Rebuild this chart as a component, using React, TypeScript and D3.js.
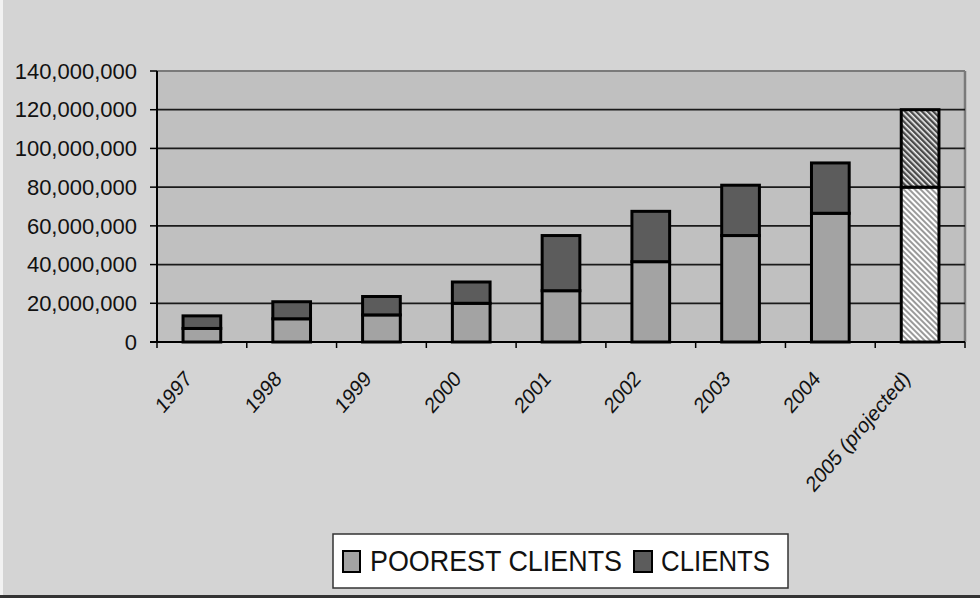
import React from "react";
import * as d3 from "d3";

const categories = ["1997", "1998", "1999", "2000", "2001", "2002", "2003", "2004", "2005 (projected)"];
// millions
const poorestClients = [7, 12, 14, 20, 26.5, 41.5, 55, 66.5, 80];
const allClients = [13.5, 20.8, 23.5, 31, 55, 67.5, 81, 92.5, 120];
const projected = [false, false, false, false, false, false, false, false, true];
const yTicks = [0, 20, 40, 60, 80, 100, 120, 140];
const legendLabels = ["POOREST CLIENTS", "CLIENTS"];

const W = 980;
const H = 598;
const left = 157;
const right = 965;
const top = 71;
const bottom = 342;

export default function App() {
  const x = d3
    .scaleBand<string>()
    .domain(categories)
    .range([left, right])
    .paddingInner(0.58)
    .paddingOuter(0.29);
  const y = d3.scaleLinear().domain([0, 140]).range([bottom, top]);
  const fmt = d3.format(",");
  const step = x.step();
  const font = "'Liberation Sans', Arial, sans-serif";

  return (
    <svg
      width={W}
      height={H}
      style={{ position: "absolute", left: 0, top: 0 }}
      fontFamily={font}
    >
      <defs>
        <pattern id="hatchLight" patternUnits="userSpaceOnUse" width={4} height={4} patternTransform="rotate(-45)">
          <rect width={4} height={4} fill="#ffffff" />
          <rect width={2} height={4} fill="#9a9a9a" />
        </pattern>
        <pattern id="hatchDark" patternUnits="userSpaceOnUse" width={4} height={4} patternTransform="rotate(-45)">
          <rect width={4} height={4} fill="#f4f4f4" />
          <rect width={2.4} height={4} fill="#4a4a4a" />
        </pattern>
      </defs>
      <rect x={0} y={0} width={W} height={H} fill="#d4d4d4" />
      <rect x={0} y={0} width={3} height={H} fill="#f2f2f2" />
      <line x1={0} x2={W} y1={596.5} y2={596.5} stroke="#333" strokeWidth={3} />

      {/* plot area */}
      <rect x={left} y={top} width={right - left} height={bottom - top} fill="#c0c0c0" />
      <line x1={left} x2={right} y1={top} y2={top} stroke="#7a7a7a" strokeWidth={2} />
      <line x1={right} x2={right} y1={top} y2={bottom} stroke="#7a7a7a" strokeWidth={2.5} />

      {/* gridlines */}
      {yTicks.filter((t) => t > 0 && t < 140).map((t) => (
        <line key={"g" + t} x1={left} x2={right} y1={y(t)} y2={y(t)} stroke="#1a1a1a" strokeWidth={1.7} />
      ))}

      {/* bars */}
      {categories.map((c, i) => {
        const bx = x(c)!;
        const bw = x.bandwidth();
        const p = poorestClients[i];
        const t = allClients[i];
        const proj = projected[i];
        return (
          <g key={c}>
            <rect
              x={bx}
              y={y(p)}
              width={bw}
              height={y(0) - y(p)}
              fill={proj ? "url(#hatchLight)" : "#a3a3a3"}
              stroke="#000"
              strokeWidth={3}
            />
            <rect
              x={bx}
              y={y(t)}
              width={bw}
              height={y(p) - y(t)}
              fill={proj ? "url(#hatchDark)" : "#5c5c5c"}
              stroke="#000"
              strokeWidth={3}
            />
          </g>
        );
      })}

      {/* y axis */}
      <line x1={left} x2={left} y1={top} y2={bottom} stroke="#000" strokeWidth={2} />
      {yTicks.map((t) => (
        <g key={"y" + t}>
          <line x1={left - 7} x2={left} y1={y(t)} y2={y(t)} stroke="#000" strokeWidth={1.5} />
          <text x={137} y={y(t)} dy="0.35em" textAnchor="end" fontSize={22} fill="#111">
            {fmt(t * 1e6)}
          </text>
        </g>
      ))}

      {/* x axis */}
      <line x1={left - 7} x2={right} y1={bottom} y2={bottom} stroke="#000" strokeWidth={2} />
      {d3.range(categories.length + 1).map((i) => (
        <line
          key={"xt" + i}
          x1={left + i * step}
          x2={left + i * step}
          y1={bottom}
          y2={bottom + 6}
          stroke="#000"
          strokeWidth={1.5}
        />
      ))}
      {categories.map((c) => {
        const cx = x(c)! + x.bandwidth() / 2;
        return (
          <text
            key={"xl" + c}
            transform={`translate(${cx - 9},${bottom + 38}) scale(0.86,1) rotate(-45)`}
            textAnchor="end"
            fontSize={22}
            fill="#111"
          >
            {c}
          </text>
        );
      })}

      {/* legend */}
      <rect x={333} y={534} width={455} height={54} fill="#ffffff" stroke="#333" strokeWidth={1.5} />
      <rect x={343} y={551} width={17} height={21} fill="#a3a3a3" stroke="#000" strokeWidth={2} />
      <text x={370} y={571} fontSize={30} textLength={252} lengthAdjust="spacingAndGlyphs" fill="#111">
        {legendLabels[0]}
      </text>
      <rect x={634} y={551} width={18} height={21} fill="#5c5c5c" stroke="#000" strokeWidth={2} />
      <text x={661} y={571} fontSize={30} textLength={109} lengthAdjust="spacingAndGlyphs" fill="#111">
        {legendLabels[1]}
      </text>
    </svg>
  );
}
